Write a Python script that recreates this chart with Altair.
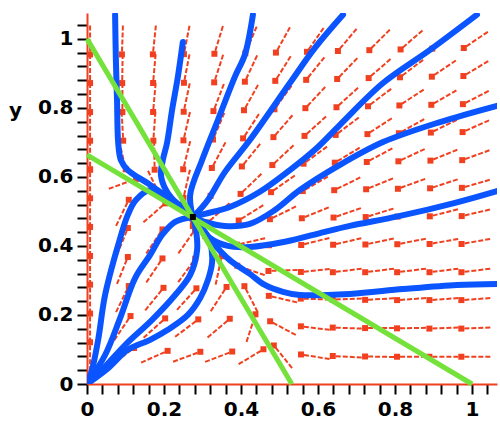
import math
import altair as alt
import pandas as pd

# ---- direction field (grid; angles in degrees, screen orientation) ----
x_grid = [0.008, 0.092, 0.175, 0.259, 0.342, 0.426, 0.509, 0.593, 0.676, 0.760, 0.843, 0.927, 1.010]
y_grid = [0.079, 0.162, 0.246, 0.329, 0.413, 0.496, 0.580, 0.663, 0.747, 0.830, 0.914, 0.997]
angles = [
    [90, 37, 24, 20, 21, 31, 129, 171, 177, 179, 180, 180, 180],
    [90, 56, 42, 37, 40, 72, 152, 173, 178, 180, -179, -178, -178],
    [90, 64, 51, 48, 57, 117, 167, 178, -178, -177, -176, -176, -176],
    [90, 68, 56, 54, 78, 161, -178, -174, -173, -173, -173, -173, -173],
    [90, 68, 56, 55, 158, -167, -165, -166, -167, -168, -169, -170, -170],
    [90, 64, 41, -65, -138, -148, -154, -158, -161, -163, -165, -166, -167],
    [90, 20, -64, -103, -124, -136, -145, -150, -154, -158, -160, -162, -164],
    [-90, -77, -89, -104, -118, -129, -137, -144, -149, -152, -155, -158, -160],
    [-90, -87, -94, -103, -113, -123, -131, -138, -143, -147, -151, -154, -156],
    [-90, -90, -95, -102, -111, -119, -126, -133, -138, -143, -147, -150, -153],
    [-90, -91, -95, -101, -108, -115, -122, -129, -134, -139, -143, -146, -149],
    [-90, -92, -96, -101, -107, -113, -119, -125, -130, -135, -139, -143, -146],
]

# ---- trajectories ----
traj = {
    "t1": ([0.073, 0.075, 0.078, 0.081, 0.088, 0.106, 0.164, 0.229, 0.275],
           [1.07, 0.939, 0.823, 0.699, 0.649, 0.620, 0.577, 0.525, 0.484]),
    "t2": ([0.249, 0.236, 0.221, 0.208, 0.197, 0.192, 0.205, 0.236, 0.275],
           [0.991, 0.890, 0.794, 0.699, 0.649, 0.606, 0.562, 0.519, 0.484]),
    "t3": ([0.0, 0.013, 0.029, 0.047, 0.081, 0.106, 0.127, 0.164, 0.216, 0.255, 0.275],
           [0.0, 0.041, 0.128, 0.258, 0.403, 0.490, 0.533, 0.562, 0.539, 0.504, 0.484]),
    "t4": ([0.0, 0.047, 0.086, 0.125, 0.164, 0.195, 0.229, 0.275],
           [0.0, 0.084, 0.191, 0.307, 0.374, 0.432, 0.470, 0.484]),
    "t5": ([0.0, 0.034, 0.099, 0.169, 0.229, 0.268, 0.286, 0.283, 0.275],
           [0.0, 0.035, 0.113, 0.186, 0.258, 0.316, 0.388, 0.446, 0.484]),
    "t6": ([0.0, 0.055, 0.106, 0.164, 0.210, 0.262, 0.294, 0.314, 0.325, 0.319, 0.294, 0.275],
           [0.0, 0.046, 0.099, 0.128, 0.157, 0.200, 0.249, 0.301, 0.354, 0.412, 0.458, 0.484]),
    "t7": ([0.431, 0.410, 0.384, 0.340, 0.299, 0.268, 0.275],
           [1.07, 0.954, 0.890, 0.765, 0.649, 0.548, 0.484]),
    "t8": ([0.665, 0.592, 0.527, 0.423, 0.358, 0.314, 0.286, 0.275],
           [1.07, 0.974, 0.872, 0.707, 0.614, 0.533, 0.496, 0.484]),
    "t9": ([1.013, 0.891, 0.769, 0.657, 0.597, 0.527, 0.449, 0.371, 0.306, 0.275],
           [1.07, 0.968, 0.872, 0.751, 0.684, 0.620, 0.557, 0.513, 0.493, 0.484]),
    "t10": ([1.065, 0.917, 0.769, 0.657, 0.553, 0.488, 0.423, 0.358, 0.306, 0.275],
            [0.806, 0.759, 0.701, 0.635, 0.562, 0.504, 0.464, 0.458, 0.470, 0.484]),
    "t11": ([1.065, 0.956, 0.813, 0.683, 0.618, 0.514, 0.423, 0.366, 0.319, 0.286, 0.275],
            [0.559, 0.525, 0.487, 0.458, 0.441, 0.412, 0.397, 0.400, 0.423, 0.464, 0.484]),
    "t12": ([1.065, 0.961, 0.821, 0.683, 0.553, 0.509, 0.462, 0.423, 0.371, 0.332, 0.306, 0.275],
            [0.290, 0.287, 0.275, 0.261, 0.258, 0.267, 0.287, 0.319, 0.359, 0.403, 0.441, 0.484]),
}

# ---- nullclines ----
null_x = {"n1": [0.0, 0.532], "n2": [0.0, 1.0]}
null_y = {"n1": [1.0, 0.0], "n2": [0.664, 0.0]}

eq_x = [0.275]
eq_y = [0.484]

# ---------------------------------------------------------------
X_MAX, Y_MAX = 1.065, 1.075
W, H = 410, 371
HALF_X = 14.5 / (W / X_MAX)
HALF_Y = 14.5 / (H / Y_MAX)

arrows = []
for i, yv in enumerate(y_grid):
    for j, xv in enumerate(x_grid):
        a = math.radians(angles[i][j])
        dx, dy = HALF_X * math.cos(a), HALF_Y * math.sin(a)
        arrows.append({"x": xv - dx, "y": yv - dy, "x2": xv + dx, "y2": yv + dy})
arrows = pd.DataFrame(arrows)

tr_rows = []
for name, (xs_, ys_) in traj.items():
    for k, (a, b) in enumerate(zip(xs_, ys_)):
        tr_rows.append({"traj": name, "i": k, "x": a, "y": b})
tr_df = pd.DataFrame(tr_rows)

nl_rows = []
for name in null_x:
    for k, (a, b) in enumerate(zip(null_x[name], null_y[name])):
        nl_rows.append({"n": name, "i": k, "x": a, "y": b})
nl_df = pd.DataFrame(nl_rows)

eq_df = pd.DataFrame({"x": eq_x, "y": eq_y})

RED = "#f0401f"
BLUE = "#0a55ff"
GREEN = "#74e23a"
FONT = "DejaVu Sans"

ticks = [round(0.04 * i, 2) for i in range(27)]
lab = "abs(datum.value*5 - round(datum.value*5)) < 0.001 ? format(datum.value, '~g') : ''"

xs = alt.Scale(domain=[0, X_MAX], nice=False, zero=False)
ys = alt.Scale(domain=[0, Y_MAX], nice=False, zero=False)

axis_common = dict(
    values=ticks, labelExpr=lab, grid=False, domainColor=RED, domainWidth=2,
    tickColor="black", tickWidth=2, tickSize=10, labelFont=FONT, labelFontWeight="bold",
    labelFontSize=20, labelColor="black", labelOverlap=False, labelFlush=False,
    labelBound=False,
)
xaxis = alt.Axis(title=None, labelPadding=5, **axis_common)
yaxis = alt.Axis(title="y", titleAngle=0, titleFont=FONT, titleFontWeight="bold",
                 titleFontSize=20, titleX=-72, titleY=97, titleAlign="center",
                 titleBaseline="middle", labelPadding=4, **axis_common)


def X(f):
    return alt.X(f, scale=xs, axis=xaxis)


def Y(f):
    return alt.Y(f, scale=ys, axis=yaxis)


field = alt.Chart(arrows).mark_rule(color=RED, strokeWidth=2, strokeDash=[5, 2]).encode(
    x=X("x:Q"), y=Y("y:Q"), x2="x2:Q", y2="y2:Q")
heads = alt.Chart(arrows).mark_square(color=RED, size=36, opacity=1).encode(
    x=X("x2:Q"), y=Y("y2:Q"))

curves = alt.Chart(tr_df).mark_line(color=BLUE, strokeWidth=6, clip=True,
                                    strokeCap="round", strokeJoin="round",
                                    interpolate="catmull-rom").encode(
    x=X("x:Q"), y=Y("y:Q"), detail="traj:N", order="i:Q")

nulls = alt.Chart(nl_df).mark_line(color=GREEN, strokeWidth=5).encode(
    x=X("x:Q"), y=Y("y:Q"), detail="n:N", order="i:Q")

dot = alt.Chart(eq_df).mark_square(color="black", size=36, opacity=1).encode(
    x=X("x:Q"), y=Y("y:Q"))

chart = alt.layer(field, heads, curves, nulls, dot).properties(
    width=W, height=H,
    padding={"left": 87, "top": 13, "right": 3, "bottom": 44},
    autosize=alt.AutoSizeParams(type="none"),
).configure_view(stroke=None)

chart.save("out.html", embed_options={"renderer": "svg", "actions": False})
